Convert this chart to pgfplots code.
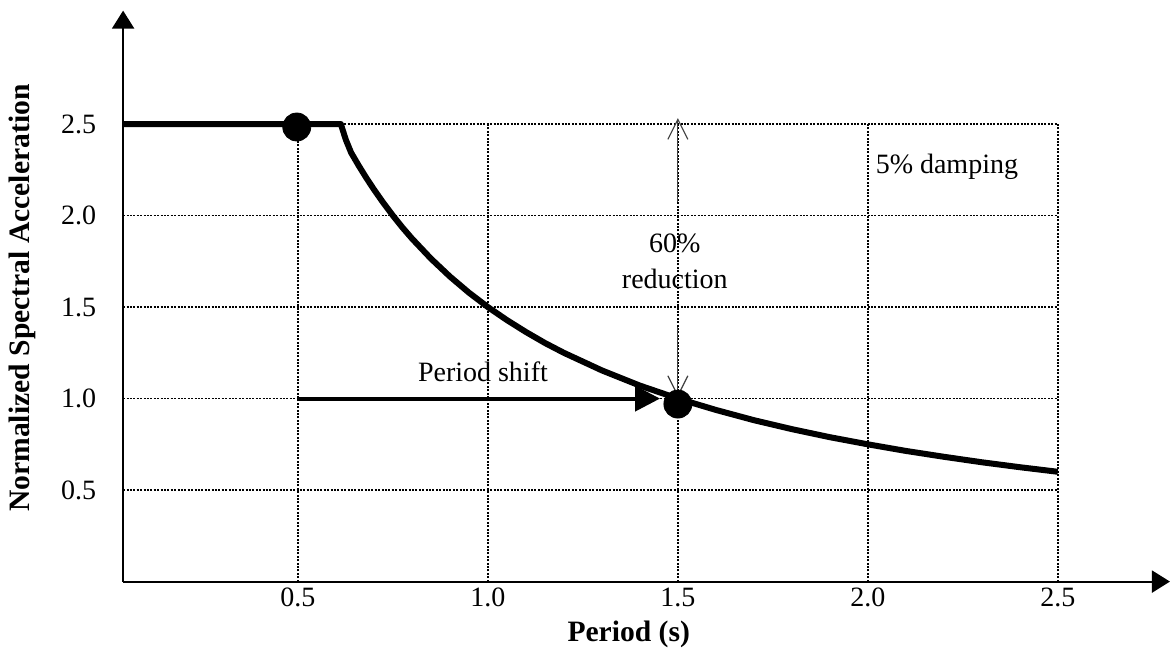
\documentclass[border=0pt]{standalone}
\usepackage{pgfplots}
\pgfplotsset{compat=1.18}
\usepackage{fontspec}
\setmainfont{Liberation Serif}
\usetikzlibrary{arrows.meta}
\begin{document}
\begin{tikzpicture}
\begin{axis}[
  scale only axis,
  width=523.45pt, height=285.5pt,
  xmin=0.04, xmax=2.795, ymin=0, ymax=3.12,
  axis lines=left,
  axis line style={line width=1pt, -{Triangle[length=9pt,width=11pt]}},
  clip=false,
  xtick={0.5,1,1.5,2,2.5}, xticklabels={0.5,1.0,1.5,2.0,2.5},
  ytick={0.5,1,1.5,2,2.5}, yticklabels={0.5,1.0,1.5,2.0,2.5},
  major tick length=0pt,
  tick style={draw=none},
  tick label style={font=\fontsize{14}{16}\selectfont},
  xticklabel style={yshift=-1pt, inner sep=2pt},
  yticklabel style={xshift=-10pt},
  xlabel={\textbf{Period (s)}},
  ylabel={\textbf{Normalized Spectral Acceleration}},
  label style={font=\fontsize{14.8}{16}\selectfont},
  xlabel style={at={(axis description cs:0.483,-0.092)}, anchor=center, inner sep=1pt},
  ylabel style={at={(axis description cs:-0.0965,0.4965)}, anchor=center},
]
% grid
\draw[line width=0.7pt, dash pattern=on 1pt off 0.7pt] (axis cs:0.04,0.5) -- (axis cs:2.5,0.5);
\draw[line width=0.7pt, dash pattern=on 1pt off 0.7pt] (axis cs:0.04,1.0) -- (axis cs:2.5,1.0);
\draw[line width=0.7pt, dash pattern=on 1pt off 0.7pt] (axis cs:0.04,1.5) -- (axis cs:2.5,1.5);
\draw[line width=0.7pt, dash pattern=on 1pt off 0.7pt] (axis cs:0.04,2.0) -- (axis cs:2.5,2.0);
\draw[line width=0.7pt, dash pattern=on 1pt off 0.7pt] (axis cs:0.04,2.5) -- (axis cs:2.5,2.5);
\draw[line width=0.7pt, dash pattern=on 1pt off 0.7pt] (axis cs:0.5,0) -- (axis cs:0.5,2.5);
\draw[line width=0.7pt, dash pattern=on 1pt off 0.7pt] (axis cs:1.0,0) -- (axis cs:1.0,2.5);
\draw[line width=0.7pt, dash pattern=on 1pt off 0.7pt] (axis cs:1.5,0) -- (axis cs:1.5,2.5);
\draw[line width=0.7pt, dash pattern=on 1pt off 0.7pt] (axis cs:2.0,0) -- (axis cs:2.0,2.5);
\draw[line width=0.7pt, dash pattern=on 1pt off 0.7pt] (axis cs:2.5,0) -- (axis cs:2.5,2.5);
% spectrum
\addplot[black, line width=3pt, line join=round] coordinates {
 (0.04,2.5) (0.613,2.5) (0.626,2.415) (0.64,2.344) (0.66,2.273) (0.68,2.206) (0.70,2.143)
 (0.725,2.069) (0.75,2.0) (0.775,1.935) (0.8,1.875) (0.85,1.765) (0.9,1.667)
 (0.95,1.579) (1.0,1.5) (1.05,1.429) (1.1,1.364) (1.15,1.304) (1.2,1.25)
 (1.3,1.154) (1.4,1.071) (1.5,1.0) (1.6,0.938) (1.7,0.882) (1.8,0.833)
 (1.9,0.789) (2.0,0.75) (2.1,0.714) (2.2,0.682) (2.3,0.652) (2.4,0.625) (2.5,0.6)
};
% period shift arrow
\addplot[black, line width=2pt, -{Triangle[length=12.5pt,width=12.5pt]}] coordinates {(0.5,1.0) (1.453,1.0)};
% dots
\addplot[only marks, mark=*, mark size=7pt, black] coordinates {(0.497,2.484) (1.5,0.97)};
% reduction arrow
\addplot[black!75, line width=0.6pt, -{Straight Barb[length=10pt,width=10pt]}] coordinates {(1.5,2.074) (1.5,2.533)};
\addplot[black!75, line width=0.6pt, -{Straight Barb[length=10pt,width=10pt]}] coordinates {(1.5,1.391) (1.5,1.008)};
% texts
\node[font=\fontsize{14}{16}\selectfont] at (axis cs:0.987,1.145) {Period shift};
\node[font=\fontsize{14}{16}\selectfont] at (axis cs:1.492,1.85) {60\%};
\node[font=\fontsize{14}{16}\selectfont] at (axis cs:1.492,1.653) {reduction};
\node[font=\fontsize{14}{16}\selectfont] at (axis cs:2.208,2.265) {5\% damping};
\path (axis cs:-0.284,-0.352) rectangle (axis cs:2.803,3.178);
\end{axis}
\end{tikzpicture}
\end{document}
